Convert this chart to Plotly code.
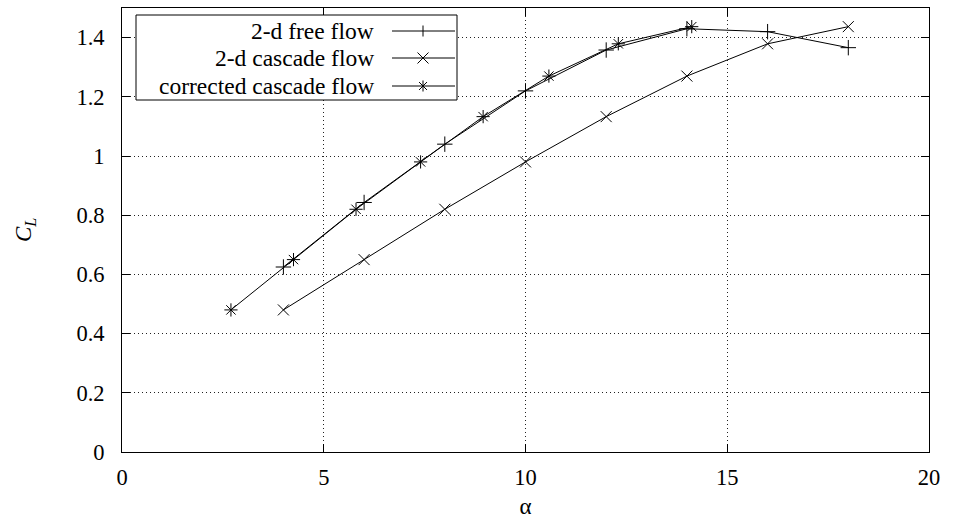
import plotly.graph_objects as go

# Data
free_alpha = [4, 6, 8, 10, 12, 14, 16, 18]
free_cl = [0.625, 0.843, 1.04, 1.22, 1.358, 1.43, 1.42, 1.366]

casc_alpha = [4, 6, 8, 10, 12, 14, 16, 18]
casc_cl = [0.48, 0.65, 0.82, 0.98, 1.133, 1.27, 1.379, 1.437]

corr_alpha = [2.7, 4.25, 5.8, 7.4, 8.95, 10.58, 12.3, 14.12]
corr_cl = [0.48, 0.65, 0.82, 0.98, 1.133, 1.27, 1.379, 1.437]

series_names = ["2-d free flow", "2-d cascade flow", "corrected cascade flow"]
series_symbols = ["cross-thin-open", "x-thin-open", "asterisk-open"]

x_ticks = [0, 5, 10, 15, 20]
y_ticks = [0, 0.2, 0.4, 0.6, 0.8, 1, 1.2, 1.4]

FONT = "Liberation Serif, Times New Roman, Times, serif"
BLACK = "#000000"

fig = go.Figure()
for xs, ys, name, sym in zip([free_alpha, casc_alpha, corr_alpha],
                             [free_cl, casc_cl, corr_cl],
                             series_names, series_symbols):
    fig.add_trace(go.Scatter(
        x=xs, y=ys, mode="lines+markers", name=name,
        line=dict(color=BLACK, width=1),
        marker=dict(symbol=sym, size=11, color=BLACK, line=dict(color=BLACK, width=1)),
        showlegend=False,
    ))

# Manual gnuplot-style legend (text right, sample on the right)
W, H, L, T = 807.0, 444.0, 122.0, 8.0
def fx(px):
    return (px - L) / W
def fy(py):
    return (T + H - py) / H

def seg(x0, y0, x1, y1):
    fig.add_shape(type="line", xref="paper", yref="paper",
                  x0=fx(x0), y0=fy(y0), x1=fx(x1), y1=fy(y1),
                  line=dict(color=BLACK, width=1), layer="above")

fig.add_shape(type="rect", xref="paper", yref="paper",
              x0=fx(136), x1=fx(457), y0=fy(100), y1=fy(15),
              line=dict(color=BLACK, width=1), fillcolor="white", layer="above")
row_y = [31, 58, 86]
mx, r = 423, 5.5
for i, (name, sym) in enumerate(zip(series_names, series_symbols)):
    py = row_y[i]
    fig.add_annotation(x=fx(376), y=fy(py), xref="paper", yref="paper", text=name,
                       showarrow=False, xanchor="right", yanchor="middle",
                       font=dict(family=FONT, size=23.5, color=BLACK))
    seg(392, py, 455, py)
    if sym in ("cross-thin-open", "asterisk-open"):
        seg(mx, py - r, mx, py + r)
    if sym in ("x-thin-open", "asterisk-open"):
        d = r * 0.72 if sym == "asterisk-open" else r
        seg(mx - d, py - d, mx + d, py + d)
        seg(mx - d, py + d, mx + d, py - d)

axis_common = dict(
    showline=True, linecolor=BLACK, linewidth=1, mirror="ticks",
    ticks="inside", ticklen=8, tickcolor=BLACK, tickwidth=1,
    showgrid=True, gridcolor="#222222", gridwidth=1, griddash="1px,3px",
    zeroline=False,
    tickfont=dict(family=FONT, size=22.5, color=BLACK),
)

fig.update_layout(
    width=953, height=523,
    margin=dict(l=122, r=24, t=8, b=71),
    paper_bgcolor="white", plot_bgcolor="white",
    font=dict(family=FONT, color=BLACK),
    xaxis=dict(range=[0, 20], tickvals=x_ticks, ticklabelstandoff=5,
               title=dict(text="α", font=dict(family=FONT, size=23, color=BLACK), standoff=8),
               **axis_common),
    yaxis=dict(range=[0, 1.5], tickvals=y_ticks, ticklabelstandoff=12,
               **axis_common),
)

fig.add_annotation(x=-0.14, y=0.5, xref="paper", yref="paper",
                   text="<i>C<sub>L</sub></i>", showarrow=False, textangle=-90,
                   font=dict(family=FONT, size=23, color=BLACK))

fig.write_html("out.html")
